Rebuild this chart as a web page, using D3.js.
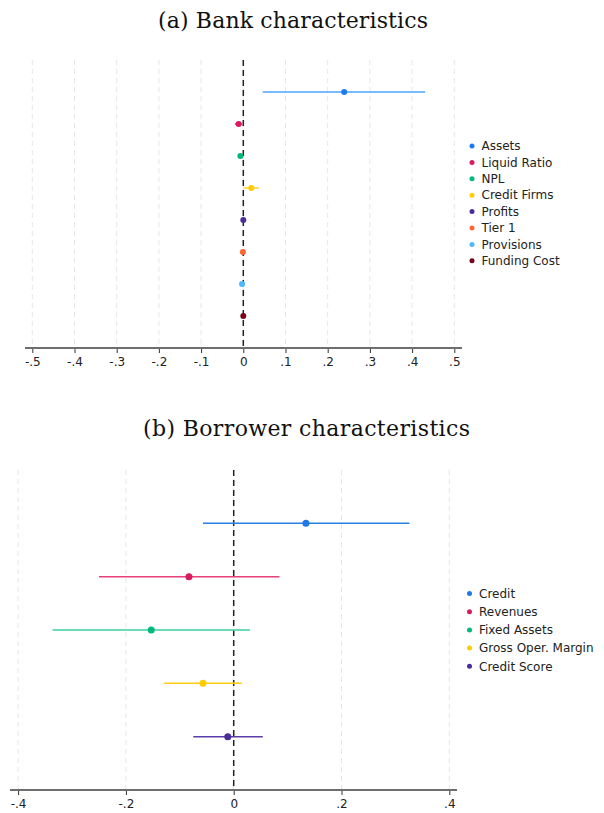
<!DOCTYPE html>
<html>
<head>
<meta charset="utf-8">
<script src="https://cdn.jsdelivr.net/npm/d3@7"></script>
<style>
  html, body { margin: 0; padding: 0; background: #fff; }
  svg { display: block; }
</style>
</head>
<body>
<svg id="chart" width="604" height="813"></svg>
<script>
// Panel (a): bank characteristics
const bankNames = ["Assets", "Liquid Ratio", "NPL", "Credit Firms", "Profits", "Tier 1", "Provisions", "Funding Cost"];
const bankEst   = [0.239, -0.011, -0.007, 0.019, 0.000, -0.001, -0.003, 0.000];
const bankLo    = [0.046, -0.020, -0.009, 0.002, -0.002, -0.003, -0.005, -0.002];
const bankHi    = [0.431, -0.002, -0.005, 0.037, 0.002, 0.001, -0.001, 0.002];
const bankDot   = ["#1a7cf0", "#d81b60", "#00b97a", "#ffcc00", "#4b2c9a", "#ff6633", "#4db8ff", "#7a0019"];
const bankLine  = ["#4da3ff", "#e04878", "#30c890", "#ffd633", "#5b3caa", "#ff7a4d", "#66c2ff", "#8a1029"];
const bankTicks = [-0.5, -0.4, -0.3, -0.2, -0.1, 0, 0.1, 0.2, 0.3, 0.4, 0.5];

// Panel (b): borrower characteristics
const borrNames = ["Credit", "Revenues", "Fixed Assets", "Gross Oper. Margin", "Credit Score"];
const borrEst   = [0.134, -0.083, -0.153, -0.057, -0.011];
const borrLo    = [-0.057, -0.250, -0.336, -0.129, -0.075];
const borrHi    = [0.326, 0.085, 0.030, 0.015, 0.054];
const borrDot   = ["#1f78e6", "#d81b60", "#00b97a", "#ffcc00", "#4b2c9a"];
const borrLine  = ["#2a7fe0", "#e8407a", "#3ccf9a", "#ffcc10", "#5b3caa"];
const borrTicks = [-0.4, -0.2, 0, 0.2, 0.4];

const svg = d3.select("#chart");

function fmt(v) {
  if (Math.abs(v) < 1e-9) return "0";
  const s = String(+v.toFixed(2));
  return s.replace("0.", ".");
}

function panel(cfg) {
  const g = svg.append("g");
  const x = d3.scaleLinear().domain(cfg.xDomain).range(cfg.xRange);
  const n = cfg.names.length;
  const y = d3.scaleLinear().domain([0, n + 1]).range([cfg.top, cfg.bottom]);

  // title
  g.append("text")
    .attr("x", cfg.titleX).attr("y", cfg.titleY)
    .attr("text-anchor", "middle")
    .attr("font-family", "'DejaVu Serif', 'Liberation Serif', serif")
    .attr("font-size", cfg.titleSize)
    .attr("textLength", cfg.titleW)
    .attr("lengthAdjust", "spacing")
    .attr("fill", "#111")
    .text(cfg.title);

  // dashed vertical gridlines
  g.selectAll("line.grid").data(cfg.ticks).enter().append("line")
    .attr("class", "grid")
    .attr("x1", d => x(d)).attr("x2", d => x(d))
    .attr("y1", cfg.top).attr("y2", cfg.bottom)
    .attr("stroke", "#e6e6e6").attr("stroke-width", 1)
    .attr("stroke-dasharray", "5,4");

  // axis
  const axis = d3.axisBottom(x).tickValues(cfg.ticks).tickFormat(fmt).tickSize(5).tickSizeOuter(0);
  const ag = g.append("g").attr("transform", `translate(0,${cfg.bottom})`).call(axis);
  ag.select(".domain").remove();
  ag.append("line")
    .attr("x1", cfg.axisX[0]).attr("x2", cfg.axisX[1])
    .attr("stroke", "#6e6e6e").attr("stroke-width", 2);
  ag.selectAll(".tick line").attr("stroke", "#333").attr("stroke-width", 1);
  ag.selectAll(".tick text")
    .attr("font-family", "'DejaVu Sans', sans-serif")
    .attr("font-size", 12).attr("fill", "#222").attr("dy", "0.85em");

  // zero reference line
  g.append("line")
    .attr("x1", x(0)).attr("x2", x(0))
    .attr("y1", cfg.top).attr("y2", cfg.bottom)
    .attr("stroke", "#222").attr("stroke-width", 1.5)
    .attr("stroke-dasharray", "6,4");

  const rows = d3.range(n);
  // confidence intervals
  g.selectAll("line.ci").data(rows).enter().append("line")
    .attr("class", "ci")
    .attr("x1", i => x(cfg.lo[i])).attr("x2", i => x(cfg.hi[i]))
    .attr("y1", i => y(i + 1)).attr("y2", i => y(i + 1))
    .attr("stroke", i => cfg.lineColors[i]).attr("stroke-width", cfg.lineW);
  // point estimates
  g.selectAll("circle.pt").data(rows).enter().append("circle")
    .attr("class", "pt")
    .attr("cx", i => x(cfg.est[i])).attr("cy", i => y(i + 1))
    .attr("r", cfg.r)
    .attr("fill", i => cfg.dotColors[i]);

  // legend
  const lg = g.append("g");
  rows.forEach(i => {
    const ly = cfg.legY + i * cfg.legStep;
    lg.append("circle").attr("cx", cfg.legX).attr("cy", ly).attr("r", 2.5).attr("fill", cfg.dotColors[i]);
    lg.append("text").attr("x", cfg.legX + 9.5).attr("y", ly).attr("dy", "0.35em")
      .attr("font-family", "'DejaVu Sans', sans-serif").attr("font-size", 12).attr("fill", "#222")
      .text(cfg.names[i]);
  });
}

panel({
  title: "(a) Bank characteristics", titleX: 293, titleY: 28, titleSize: 22, titleW: 270,
  names: bankNames, est: bankEst, lo: bankLo, hi: bankHi,
  dotColors: bankDot, lineColors: bankLine, ticks: bankTicks,
  xDomain: [0, 0.1], xRange: [243.3, 285.5],
  top: 60, bottom: 348, axisX: [25, 462],
  lineW: 1.5, r: 3,
  legX: 472, legY: 146, legStep: 16.4
});

panel({
  title: "(b) Borrower characteristics", titleX: 306.5, titleY: 436, titleSize: 22, titleW: 327,
  names: borrNames, est: borrEst, lo: borrLo, hi: borrHi,
  dotColors: borrDot, lineColors: borrLine, ticks: borrTicks,
  xDomain: [0, 0.2], xRange: [233.7, 341.5],
  top: 470, bottom: 790, axisX: [10, 457],
  lineW: 1.5, r: 3.5,
  legX: 469.5, legY: 593.5, legStep: 18.2
});
</script>
</body>
</html>
